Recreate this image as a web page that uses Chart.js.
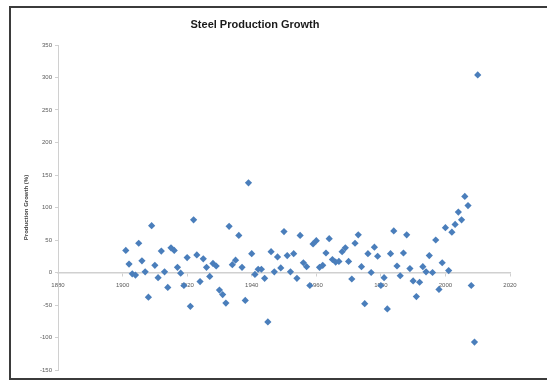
<!DOCTYPE html>
<html>
<head>
<meta charset="utf-8">
<script src="https://cdn.jsdelivr.net/npm/chart.js@4.4.1/dist/chart.umd.min.js"></script>
<style>
  html, body { margin: 0; padding: 0; background: #fff; }
  #wrap { position: relative; width: 547px; height: 381px; overflow: hidden; }
  #myChart { position: absolute; left: 0; top: 0; }
  #frame {
    position: absolute; left: 9px; top: 6px; width: 560px; height: 370px;
    border: 2px solid #3b3b3b; pointer-events: none;
  }
</style>
</head>
<body>
<div id="wrap">
  <canvas id="myChart" width="547" height="381"></canvas>
  <div id="frame"></div>
</div>
<script>
// yearly growth of steel production, percent
const years = [
  1901, 1902, 1903, 1904, 1905, 1906, 1907, 1908, 1909, 1910,
  1911, 1912, 1913, 1914, 1915, 1916, 1917, 1918, 1919, 1920,
  1921, 1922, 1923, 1924, 1925, 1926, 1927, 1928, 1929, 1930,
  1931, 1932, 1933, 1934, 1935, 1936, 1937, 1938, 1939, 1940,
  1941, 1942, 1943, 1944, 1945, 1946, 1947, 1948, 1949, 1950,
  1951, 1952, 1953, 1954, 1955, 1956, 1957, 1958, 1959, 1960,
  1961, 1962, 1963, 1964, 1965, 1966, 1967, 1968, 1969, 1970,
  1971, 1972, 1973, 1974, 1975, 1976, 1977, 1978, 1979, 1980,
  1981, 1982, 1983, 1984, 1985, 1986, 1987, 1988, 1989, 1990,
  1991, 1992, 1993, 1994, 1995, 1996, 1997, 1998, 1999, 2000,
  2001, 2002, 2003, 2004, 2005, 2006, 2007, 2008, 2009, 2010
];
const growth = [
  34, 13, -2, -4, 45, 18, 1, -38, 72, 11,
  -8, 33, 1, -23, 38, 34, 8, -1, -20, 23,
  -52, 81, 27, -14, 21, 8, -6, 14, 10, -27,
  -34, -47, 71, 12, 19, 57, 8, -43, 138, 29,
  -3, 5, 5, -9, -76, 32, 1, 24, 7, 63,
  26, 1, 29, -9, 57, 15, 9, -20, 44, 49,
  8, 11, 30, 52, 20, 16, 17, 32, 38, 17,
  -10, 45, 58, 9, -48, 29, 0, 39, 25, -20,
  -8, -56, 29, 64, 10, -5, 30, 58, 6, -13,
  -37, -15, 9, 1, 26, 0, 50, -26, 15, 69,
  3, 62, 74, 93, 81, 117, 103, -20, -107, 304
];
const yTicks = [-150, -100, -50, 0, 50, 100, 150, 200, 250, 300, 350];
const xTicks = [1880, 1900, 1920, 1940, 1960, 1980, 2000, 2020];

const points = years.map((yr, i) => ({ x: yr, y: growth[i] }));

const ctx = document.getElementById("myChart");

new Chart(ctx, {
  type: "scatter",
  data: {
    datasets: [
      {
        label: "Production Growth",
        data: points,
        pointStyle: "rectRot",
        pointRadius: 3.6,
        pointHoverRadius: 3.6,
        backgroundColor: "#4a7ebb",
        borderColor: "#4a7ebb",
        borderWidth: 0,
      },
    ],
  },
  options: {
    responsive: false,
    animation: false,
    events: [],
    layout: {
      padding: { top: 0, right: 37, bottom: 11, left: 0 },
    },
    scales: {
      x: {
        type: "linear",
        position: { y: 0 },
        min: 1880,
        max: 2020,
        afterBuildTicks: (scale) => {
          scale.ticks = xTicks.map((v) => ({ value: v }));
        },
        ticks: {
          color: "#595959",
          font: { size: 6, family: "Liberation Sans" },
          padding: 6,
          maxRotation: 0,
          callback: (value) => String(value),
        },
        grid: {
          drawOnChartArea: false,
          tickLength: 3,
          color: "#d0d0d0",
        },
        border: { color: "#d0d0d0", width: 1.5 },
      },
      y: {
        type: "linear",
        position: "left",
        min: -150,
        max: 350,
        afterBuildTicks: (scale) => {
          scale.ticks = yTicks.map((v) => ({ value: v }));
        },
        afterFit: (scale) => {
          scale.width = 58;
        },
        ticks: {
          color: "#595959",
          font: { size: 6, family: "Liberation Sans" },
          padding: 3,
          callback: (value) => String(value),
        },
        grid: {
          drawOnChartArea: false,
          tickLength: 3,
          color: "#d0d0d0",
        },
        border: { color: "#d0d0d0", width: 1 },
        title: {
          display: true,
          text: "Production Growth (%)",
          color: "#404040",
          font: { size: 6, weight: "bold", family: "Liberation Sans" },
          padding: { top: 23, bottom: 0 },
        },
      },
    },
    plugins: {
      legend: { display: false },
      tooltip: { enabled: false },
      title: {
        display: true,
        text: "Steel Production Growth",
        color: "#1a1a1a",
        font: { size: 11, weight: "bold", family: "Liberation Sans" },
        padding: { top: 18, bottom: 13.8 },
      },
    },
  },
});
</script>
</body>
</html>
